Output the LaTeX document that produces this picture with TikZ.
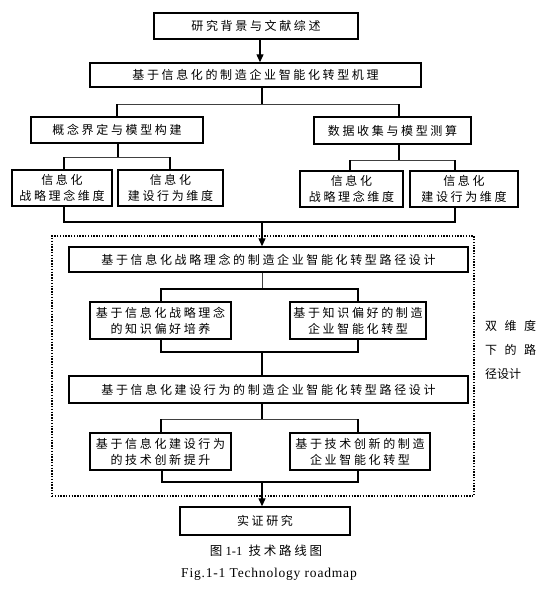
\documentclass[tikz,border=0pt]{standalone}
\usepackage{fontspec}
\setmainfont{Liberation Serif}
\newfontfamily\cjk[LetterSpace=22]{Noto Sans CJK SC}
\newfontfamily\cjkwide[LetterSpace=62]{Noto Sans CJK SC}
\newfontfamily\cjkn{Noto Sans CJK SC}
\newfontfamily\capfont[LetterSpace=6]{Liberation Serif}
\usetikzlibrary{arrows.meta}
\begin{document}
\begin{tikzpicture}[x=1pt,y=-1pt,
  box/.style={draw, line width=1.4pt, inner sep=0pt, align=center,
    font={\fontsize{12}{16}\selectfont\cjk}},
  conn/.style={line width=1.2pt},
  thinconn/.style={line width=0.8pt, black!75},
  arr/.style={line width=1.2pt, -{Triangle[length=8pt,width=7pt]}},
  side/.style={anchor=west, inner sep=0pt},
  frame/.style={draw, line width=1.3pt, dash pattern=on 1.4pt off 1.4pt, inner sep=0pt}
]
\useasboundingbox (0,0) rectangle (556,592);

% boxes
\node[box, minimum width=204pt, minimum height=26pt] (b1) at (256,26) {研究背景与文献综述};
\node[box, minimum width=331pt, minimum height=24pt] (b2) at (255.5,75) {基于信息化的制造企业智能化转型机理};
\node[box, minimum width=172pt, minimum height=26pt] (b3) at (117,130) {概念界定与模型构建};
\node[box, minimum width=157pt, minimum height=27pt] (b4) at (392.5,130.5) {数据收集与模型测算};
\node[box, minimum width=100pt, minimum height=36pt] (b5) at (62,188) {信息化\\战略理念维度};
\node[box, minimum width=105pt, minimum height=36pt] (b6) at (170.5,188) {信息化\\建设行为维度};
\node[box, minimum width=103pt, minimum height=36pt] (b7) at (351.5,189) {信息化\\战略理念维度};
\node[box, minimum width=108pt, minimum height=36pt] (b8) at (464,189) {信息化\\建设行为维度};

\node[frame, minimum width=422pt, minimum height=260pt] (fr) at (263,366) {};

\node[box, minimum width=399pt, minimum height=25pt] (b9) at (268.5,259.5) {基于信息化战略理念的制造企业智能化转型路径设计};
\node[box, minimum width=141pt, minimum height=37pt] (b10) at (160.5,320.5) {基于信息化战略理念\\的知识偏好培养};
\node[box, minimum width=136pt, minimum height=37pt] (b11) at (358,320.5) {基于知识偏好的制造\\企业智能化转型};
\node[box, minimum width=399pt, minimum height=27pt] (b12) at (268.5,389.5) {基于信息化建设行为的制造企业智能化转型路径设计};
\node[box, minimum width=141pt, minimum height=37pt] (b13) at (160.5,451.5) {基于信息化建设行为\\的技术创新提升};
\node[box, minimum width=140pt, minimum height=37pt] (b14) at (360,451.5) {基于技术创新的制造\\企业智能化转型};
\node[box, minimum width=170pt, minimum height=28pt] (b15) at (265,521) {实证研究};

% side label
\node[side, font={\fontsize{12}{14}\selectfont\cjkwide}] (s1) at (485,326) {双维度};
\node[side, font={\fontsize{12}{14}\selectfont\cjkwide}] (s2) at (485,350) {下的路};
\node[side, font={\fontsize{12}{14}\selectfont\cjkn}] (s3) at (485,374) {径设计};

% captions
\node[font={\fontsize{12.5}{14}\selectfont}] (cap1) at (266,551) {{\cjk 图}\ 1-1\ \ {\cjk 技术路线图}};
\node[font={\fontsize{13.5}{15}\selectfont\capfont}] (cap2) at (269,574) {Fig.1-1 Technology roadmap};

% connectors
\draw[arr] ([xshift=4pt]b1.south) -- ([xshift=4pt]b1.south |- b2.north);

\coordinate (t1) at (262,104); \coordinate (t1l) at (117,104); \coordinate (t1r) at (399,104);
\draw[conn] (b2.south -| t1) -- (t1);
\draw[thinconn] (t1l) -- (t1r);
\draw[conn] (t1l) -- (t1l |- b3.north);
\draw[conn] (t1r) -- (t1r |- b4.north);

\coordinate (t2) at (118,157); \coordinate (t2l) at (64,157); \coordinate (t2r) at (170,157);
\draw[conn] (b3.south -| t2) -- (t2);
\draw[thinconn] (t2l) -- (t2r);
\draw[conn] (t2l) -- (t2l |- b5.north);
\draw[conn] (t2r) -- (t2r |- b6.north);

\coordinate (t3) at (399,160); \coordinate (t3l) at (350,160); \coordinate (t3r) at (455,160);
\draw[conn] (b4.south -| t3) -- (t3);
\draw[thinconn] (t3l) -- (t3r);
\draw[conn] (t3l) -- (t3l |- b7.north);
\draw[conn] (t3r) -- (t3r |- b8.north);

\coordinate (m1) at (262,222); \coordinate (m1l) at (64,222); \coordinate (m1r) at (455,222);
\draw[conn] (m1l |- b5.south) -- (m1l) -- (m1r) -- (m1r |- b8.south);
\draw[arr] (m1) -- (m1 |- b9.north);

\coordinate (t4) at (262,289); \coordinate (t4l) at (161,289); \coordinate (t4r) at (358,289);
\draw[thinconn] (b9.south -| t4) -- (t4);
\draw[conn] (t4l |- b10.north) -- (t4l) -- (t4r) -- (t4r |- b11.north);

\coordinate (m2) at (262,352); \coordinate (m2l) at (161,352); \coordinate (m2r) at (358,352);
\draw[conn] (m2l |- b10.south) -- (m2l) -- (m2r) -- (m2r |- b11.south);
\draw[conn] (m2) -- (m2 |- b12.north);

\coordinate (t5) at (262,419); \coordinate (t5l) at (161,419); \coordinate (t5r) at (358,419);
\draw[conn] (b12.south -| t5) -- (t5);
\draw[thinconn] (t5l) -- (t5r);
\draw[conn] (t5l) -- (t5l |- b13.north);
\draw[conn] (t5r) -- (t5r |- b14.north);

\coordinate (m3) at (262,482); \coordinate (m3l) at (162,482); \coordinate (m3r) at (358,482);
\draw[conn] (m3l |- b13.south) -- (m3l) -- (m3r) -- (m3r |- b14.south);
\draw[arr] (m3) -- (m3 |- b15.north);
\end{tikzpicture}
\end{document}
